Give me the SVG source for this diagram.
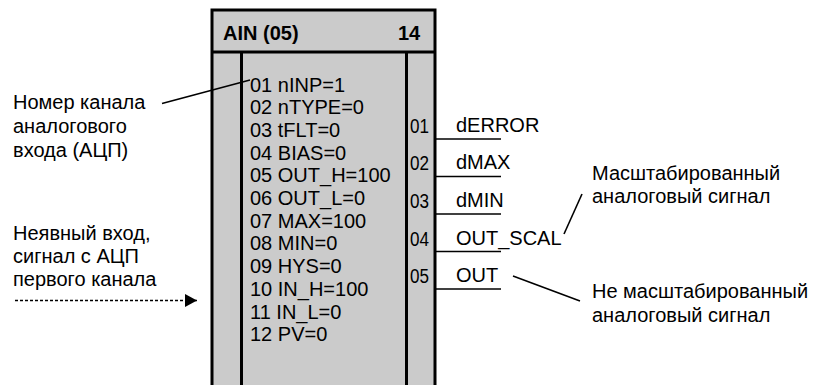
<svg xmlns="http://www.w3.org/2000/svg" width="813" height="385" viewBox="0 0 813 385">
<style>
text{font-family:"Liberation Sans",Arial,sans-serif;font-size:20px;fill:#000}
.b{font-weight:bold}
.blk{fill:#cbcbcb;stroke:#000;stroke-width:3}
.ln{stroke:#000;stroke-width:3;fill:none}
.thin{stroke:#000;stroke-width:1.6;fill:none}
</style>
<defs>
<marker id="ah" viewBox="0 0 12 13" refX="12" refY="6.5" markerWidth="12" markerHeight="13" markerUnits="userSpaceOnUse" orient="auto">
<path d="M0,0 L12,6.5 L0,13 Z" fill="#000"/>
</marker>
</defs>
<rect width="813" height="385" fill="#fff"/>
<g id="block">
<rect class="blk" x="212" y="10" width="223" height="390"/>
<line class="ln" x1="212" y1="52" x2="435" y2="52"/>
<line class="ln" x1="241.5" y1="52" x2="241.5" y2="390"/>
<line class="ln" x1="406.5" y1="52" x2="406.5" y2="390"/>
<text class="b" x="223" y="40">AIN (05)</text>
<text class="b" x="398" y="40">14</text>
<text x="250" y="91.5">01 nINP=1</text>
<text x="250" y="114.2">02 nTYPE=0</text>
<text x="250" y="136.9">03 tFLT=0</text>
<text x="250" y="159.6">04 BIAS=0</text>
<text x="250" y="182.3">05 OUT_H=100</text>
<text x="250" y="205">06 OUT_L=0</text>
<text x="250" y="227.7">07 MAX=100</text>
<text x="250" y="250.4">08 MIN=0</text>
<text x="250" y="273.1">09 HYS=0</text>
<text x="250" y="295.8">10 IN_H=100</text>
<text x="250" y="318.5">11 IN_L=0</text>
<text x="250" y="341.2">12 PV=0</text>
<text x="410" y="133" textLength="19" lengthAdjust="spacingAndGlyphs">01</text>
<text x="410" y="170" textLength="19" lengthAdjust="spacingAndGlyphs">02</text>
<text x="410" y="208" textLength="19" lengthAdjust="spacingAndGlyphs">03</text>
<text x="410" y="246" textLength="19" lengthAdjust="spacingAndGlyphs">04</text>
<text x="410" y="283" textLength="19" lengthAdjust="spacingAndGlyphs">05</text>
</g>
<g id="outputs">
<text x="456" y="132">dERROR</text>
<text x="456" y="169">dMAX</text>
<text x="456" y="207">dMIN</text>
<text x="456" y="245">OUT_SCAL</text>
<text x="456" y="282">OUT</text>
</g>
<g id="annot-channel">
<text x="13" y="109">Номер канала</text>
<text x="13" y="133">аналогового</text>
<text x="13" y="157">входа (АЦП)</text>
</g>
<g id="annot-implicit">
<text x="13" y="240">Неявный вход,</text>
<text x="13" y="263">сигнал с АЦП</text>
<text x="13" y="286">первого канала</text>
</g>
<g id="annot-scaled">
<text x="592" y="180">Масштабированный</text>
<text x="592" y="203">аналоговый сигнал</text>
</g>
<g id="annot-unscaled">
<text x="592" y="298">Не масштабированный</text>
<text x="592" y="322">аналоговый сигнал</text>
</g>
<g id="connectors">
<line class="thin" x1="435" y1="139" x2="501" y2="139"/>
<line class="thin" x1="435" y1="176.5" x2="501" y2="176.5"/>
<line class="thin" x1="435" y1="214" x2="501" y2="214"/>
<line class="thin" x1="435" y1="251.5" x2="501" y2="251.5"/>
<line class="thin" x1="435" y1="289" x2="501" y2="289"/>
<line class="thin" x1="162" y1="103.5" x2="250" y2="80"/>
<line class="thin" x1="564" y1="234" x2="582" y2="194"/>
<line class="thin" x1="513" y1="276" x2="580" y2="301"/>
<line stroke="#000" stroke-width="1.6" stroke-dasharray="3,2" x1="15" y1="300.5" x2="197" y2="300.5" marker-end="url(#ah)"/>
</g>
</svg>
